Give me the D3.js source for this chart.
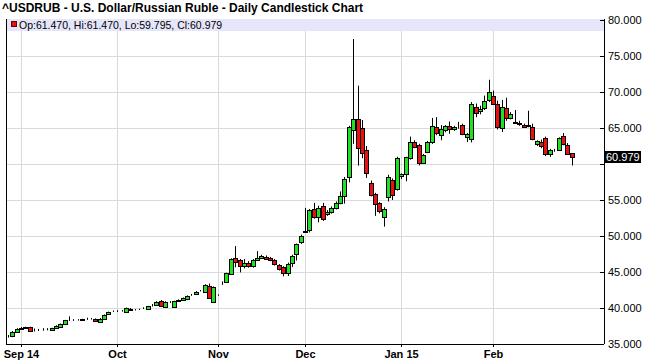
<!DOCTYPE html>
<html>
<head>
<meta charset="utf-8">
<script src="https://cdn.jsdelivr.net/npm/d3@7"></script>
<style>
  body { margin: 0; background: #fff; }
  svg { display: block; font-family: "Liberation Sans", Arial, sans-serif; }
</style>
</head>
<body>
<svg id="chart" width="645" height="360"></svg>
<script>

// Trading calendar.
var firstDay = '2014-08-27';
var lastDay = '2015-02-26';
var holidays = ['2014-12-25', '2015-01-01'];

// Month labels (one per month, first trading day).
var monthLabels = ['Sep 14', 'Oct', 'Nov', 'Dec', 'Jan 15', 'Feb'];

// Price ticks.
var priceTicks = [35, 40, 45, 50, 55, 60, 65, 70, 75, 80];

// Daily OHLC.
var opens = [
  36.05, 36.07, 36.70, 37.12, 37.25, 37.30, 36.92, 36.95, 36.98, 37.02,
  36.95, 37.20, 37.42, 37.73, 38.28, 38.30, 38.32, 38.38, 38.45, 38.48,
  38.43, 38.10, 38.43, 39.17, 39.55, 39.58, 39.60, 39.44, 39.90, 39.72,
  39.80, 39.95, 39.90, 40.35, 40.42, 40.97, 40.20, 40.85, 40.20, 40.95,
  41.10, 41.20, 41.80, 41.99, 42.38, 42.27, 43.06, 40.88, 41.78, 43.45,
  43.66, 44.70, 46.90, 46.60, 45.80, 46.30, 45.80, 46.70, 47.00, 47.10,
  46.95, 46.70, 46.00, 45.70, 44.80, 46.20, 47.50, 49.20, 50.60, 50.80,
  53.75, 52.70, 54.17, 53.10, 53.30, 53.90, 54.60, 55.60, 58.15, 64.72,
  66.25, 65.00, 62.00, 57.36, 55.85, 54.60, 52.60, 55.47, 57.80, 56.53,
  58.30, 58.60, 60.84, 63.00, 62.64, 60.14, 61.67, 63.05, 65.10, 64.08,
  64.70, 65.30, 64.80, 65.10, 65.40, 63.80, 63.52, 67.90, 67.30, 67.80,
  68.85, 69.50, 68.40, 65.05, 67.80, 66.40, 65.80, 65.75, 65.40, 65.30,
  65.20, 62.75, 63.10, 63.65, 61.35, 61.90, 61.90, 63.90, 62.70, 61.47
];
var highs = [
  36.25, 36.80, 37.20, 37.35, 37.40, 37.40, 37.15, 37.10, 37.20, 37.20,
  37.25, 37.60, 37.85, 38.35, 38.84, 38.45, 38.45, 38.50, 38.65, 38.60,
  38.55, 38.60, 39.10, 39.50, 39.65, 39.70, 39.70, 40.05, 40.00, 39.85,
  39.90, 40.10, 40.30, 40.55, 40.95, 41.10, 40.95, 40.95, 41.00, 41.20,
  41.45, 41.75, 41.95, 42.35, 42.50, 43.30, 43.40, 43.00, 41.90, 43.70,
  44.90, 46.90, 48.60, 46.80, 46.80, 46.50, 46.80, 47.90, 47.40, 47.30,
  47.10, 46.80, 46.10, 45.80, 46.30, 47.40, 48.95, 50.20, 53.90, 53.75,
  54.60, 54.20, 54.60, 53.60, 54.10, 54.80, 56.20, 58.20, 65.30, 77.36,
  70.88, 66.10, 62.50, 57.70, 56.00, 54.70, 54.00, 58.50, 58.00, 61.00,
  58.70, 61.00, 63.80, 63.30, 62.80, 61.40, 63.20, 66.40, 66.50, 65.40,
  65.40, 65.90, 65.30, 65.85, 65.60, 64.30, 68.60, 68.40, 68.10, 69.50,
  71.70, 70.20, 68.80, 68.90, 69.20, 67.20, 67.50, 66.00, 65.60, 67.40,
  65.60, 63.30, 63.40, 63.80, 62.10, 62.10, 63.70, 64.30, 62.90, 61.47
];
var lows = [
  35.90, 35.95, 36.60, 37.00, 37.15, 36.70, 36.75, 36.80, 36.85, 36.90,
  36.90, 37.10, 37.35, 37.65, 38.20, 38.20, 38.25, 38.30, 38.35, 38.40,
  38.10, 38.05, 38.35, 39.10, 39.45, 39.45, 39.50, 39.40, 39.65, 39.65,
  39.72, 39.85, 39.85, 40.20, 40.35, 40.25, 40.15, 40.70, 40.10, 40.85,
  41.00, 41.10, 41.70, 41.90, 42.30, 42.20, 41.25, 40.70, 41.70, 43.20,
  43.50, 44.60, 45.65, 44.95, 45.50, 45.60, 45.60, 46.60, 46.90, 46.70,
  46.50, 45.90, 45.20, 44.40, 44.45, 45.70, 46.60, 48.90, 50.50, 50.50,
  52.40, 51.90, 52.10, 52.80, 53.10, 53.70, 54.40, 54.50, 57.45, 62.80,
  59.77, 60.80, 58.06, 55.50, 52.80, 53.15, 51.30, 54.80, 55.00, 56.30,
  57.90, 57.60, 60.60, 62.20, 59.80, 60.00, 61.50, 62.80, 64.00, 63.30,
  64.40, 64.20, 64.60, 64.90, 64.00, 63.05, 63.00, 66.50, 66.90, 67.50,
  68.60, 68.20, 64.80, 64.45, 66.00, 66.20, 65.60, 65.30, 65.00, 65.10,
  63.30, 62.50, 62.20, 61.10, 61.00, 61.70, 61.80, 62.60, 61.30, 59.795
];
var closes = [
  36.08, 36.62, 37.10, 37.20, 37.30, 36.80, 36.97, 36.98, 37.00, 37.06,
  37.20, 37.50, 37.78, 38.29, 38.32, 38.33, 38.36, 38.43, 38.50, 38.52,
  38.15, 38.50, 38.98, 39.44, 39.58, 39.60, 39.62, 39.95, 39.72, 39.76,
  39.83, 40.03, 40.23, 40.38, 40.88, 40.33, 40.90, 40.82, 40.93, 41.10,
  41.35, 41.66, 41.85, 42.27, 42.42, 43.15, 41.44, 42.87, 41.80, 43.50,
  44.82, 46.76, 46.40, 45.80, 46.30, 45.80, 46.70, 47.00, 47.25, 46.80,
  46.60, 46.10, 45.40, 44.80, 46.10, 47.20, 48.85, 50.00, 50.75, 53.60,
  52.70, 53.85, 52.30, 53.40, 53.90, 54.60, 55.60, 57.90, 65.09, 66.25,
  62.22, 61.53, 58.75, 55.70, 54.45, 53.50, 53.75, 58.25, 55.74, 60.84,
  58.55, 60.93, 63.05, 62.40, 60.14, 61.20, 63.05, 65.28, 64.35, 64.80,
  65.25, 64.80, 65.10, 65.12, 64.10, 64.10, 68.38, 67.10, 67.60, 68.70,
  70.05, 68.40, 65.10, 67.90, 66.40, 66.90, 65.75, 65.50, 65.20, 65.35,
  63.50, 63.15, 62.45, 61.45, 61.95, 61.90, 63.55, 62.80, 61.45, 60.979
];

// Frame.
var plot = { left: 6, right: 604, top: 19, bottom: 344 };
var green = '#20e020';
var red = '#e81010';
var grid = '#dadada';

var svg = d3.select('#chart');
var fmt = d3.format('.3f');

// Build trading days.
var parse = d3.utcParse('%Y-%m-%d');
var dayKey = d3.utcFormat('%Y-%m-%d');
var days = d3.utcDay.range(parse(firstDay), d3.utcDay.offset(parse(lastDay), 1))
  .filter(function(d) {
    var wd = d.getUTCDay();
    return wd !== 0 && wd !== 6 && holidays.indexOf(dayKey(d)) < 0;
  });

var bars = days.map(function(d, i) {
  return { date: d, i: i, o: opens[i], h: highs[i], l: lows[i], c: closes[i] };
});
var last = bars[bars.length - 1];

// First trading day of each month after the opening one.
var monthStarts = [];
bars.forEach(function(b, i) {
  if (i > 0 && b.date.getUTCMonth() !== bars[i - 1].date.getUTCMonth()) {
    monthStarts.push(i);
  }
});

// Scales.
var x = d3.scaleLinear()
  .domain([-0.43, bars.length + 6.4])
  .range([plot.left, plot.right]);

var y = d3.scaleLinear()
  .domain([35, 80])
  .range([plot.bottom, plot.top + 1]);

// Grid.
var g = svg.append('g');

g.selectAll('line.hgrid')
  .data(priceTicks.filter(function(t) { return t > 35 && t < 80; }))
  .enter().append('line')
  .attr('x1', plot.left).attr('x2', plot.right)
  .attr('y1', function(d) { return Math.round(y(d)) + 0.5; })
  .attr('y2', function(d) { return Math.round(y(d)) + 0.5; })
  .attr('stroke', grid);

g.selectAll('line.vgrid')
  .data(monthStarts)
  .enter().append('line')
  .attr('x1', function(d) { return Math.round(x(d)) + 0.5; })
  .attr('x2', function(d) { return Math.round(x(d)) + 0.5; })
  .attr('y1', plot.top).attr('y2', plot.bottom)
  .attr('stroke', grid);

// Legend band.
svg.append('rect')
  .attr('x', plot.left + 1).attr('y', plot.top)
  .attr('width', plot.right - plot.left - 1).attr('height', 12)
  .attr('fill', '#e6e6fa');

// Candles.
var candle = svg.append('g').selectAll('g')
  .data(bars)
  .enter().append('g');

candle.append('line')
  .attr('x1', function(d) { return Math.round(x(d.i)) + 0.5; })
  .attr('x2', function(d) { return Math.round(x(d.i)) + 0.5; })
  .attr('y1', function(d) { return y(d.h); })
  .attr('y2', function(d) { return y(d.l); })
  .attr('stroke', '#000');

candle.append('rect')
  .attr('x', function(d) { return Math.round(x(d.i)) - 1.5; })
  .attr('width', 4)
  .attr('y', function(d) { return Math.round(y(Math.max(d.o, d.c))) + 0.5; })
  .attr('height', function(d) {
    return Math.max(0, Math.round(y(Math.min(d.o, d.c))) - Math.round(y(Math.max(d.o, d.c))));
  })
  .attr('fill', function(d) { return d.c >= d.o ? green : red; })
  .attr('stroke', '#000')
  .attr('stroke-width', 1);

// Axes.
var xAxis = d3.axisBottom(x)
  .tickValues(monthStarts)
  .tickSizeInner(3)
  .tickSizeOuter(0)
  .tickPadding(3)
  .tickFormat(function(d, i) { return monthLabels[i]; });

var ax = svg.append('g')
  .attr('transform', 'translate(0,' + plot.bottom + ')')
  .call(xAxis);
ax.select('.domain').attr('d', 'M' + plot.left + ',0.5H' + plot.right);
ax.selectAll('.tick line').attr('stroke', '#000');
ax.selectAll('.tick').attr('transform', function(d) {
  return 'translate(' + (Math.round(x(d)) + 0.5) + ',0)';
});
ax.selectAll('text')
  .attr('fill', '#000')
  .style('font-size', '11px')
  .style('font-weight', 'bold')
  .style('font-family', '"Liberation Sans", Arial, sans-serif');

var yAxis = d3.axisRight(y)
  .tickValues(priceTicks)
  .tickSizeInner(-4)
  .tickSizeOuter(0)
  .tickPadding(4)
  .tickFormat(fmt);

var ay = svg.append('g')
  .attr('transform', 'translate(' + plot.right + ',0)')
  .call(yAxis);
ay.select('.domain').attr('d', 'M0.5,' + plot.top + 'V' + plot.bottom);
ay.selectAll('.tick').attr('transform', function(d) {
  return 'translate(0,' + (Math.round(y(d)) + 0.5) + ')';
});
ay.selectAll('text')
  .attr('fill', '#000')
  .style('font-size', '11px')
  .style('font-family', '"Liberation Sans", Arial, sans-serif');

// The last price badge sits over any label it covers.
ay.selectAll('.tick text')
  .filter(function(d) { return Math.abs(y(d) - y(last.c)) < 12; })
  .remove();

// Left frame line.
svg.append('line')
  .attr('x1', plot.left + 0.5).attr('x2', plot.left + 0.5)
  .attr('y1', plot.top).attr('y2', plot.bottom)
  .attr('stroke', '#000');

// Last price badge.
var ly = y(last.c);
svg.append('rect')
  .attr('x', plot.right + 1).attr('y', Math.round(ly) - 6)
  .attr('width', 36).attr('height', 12)
  .attr('fill', '#000');
svg.append('text')
  .attr('x', plot.right + 2).attr('y', Math.round(ly) + 4)
  .attr('fill', '#fff')
  .style('font-size', '11px')
  .text(fmt(last.c));

// Title.
svg.append('text')
  .attr('x', 2).attr('y', 12)
  .style('font-size', '12px')
  .style('font-weight', 'bold')
  .text('^USDRUB - U.S. Dollar/Russian Ruble - Daily Candlestick Chart');

// Legend.
svg.append('rect')
  .attr('x', 11.5).attr('y', 21.5)
  .attr('width', 5).attr('height', 5)
  .attr('fill', red)
  .attr('stroke', '#600')
  .attr('stroke-width', 1);

svg.append('text')
  .attr('x', 19).attr('y', 29)
  .style('font-size', '10.5px')
  .text('Op:' + fmt(last.o) + ', Hi:' + fmt(last.h) + ', Lo:' + fmt(last.l) + ', Cl:' + fmt(last.c));

</script>
</body>
</html>
